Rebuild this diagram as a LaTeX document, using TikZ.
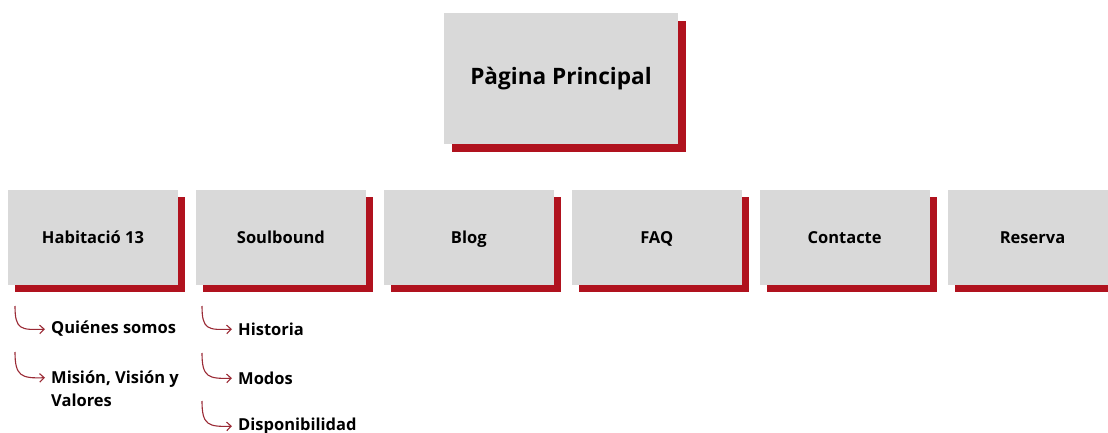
\documentclass[tikz,border=0pt]{standalone}
\usepackage{fontspec}
\setmainfont{Open Sans}
\usetikzlibrary{positioning,shadows,arrows.meta}
\definecolor{boxgray}{HTML}{D9D9D9}
\definecolor{shadowred}{HTML}{B0121E}
\definecolor{hookred}{HTML}{9A2A35}

\begin{document}
\begin{tikzpicture}[x=1pt,y=-1pt,
      node distance=17.5pt,
      page/.style={fill=boxgray,inner sep=0pt,minimum width=170pt,minimum height=95pt,
        font=\bfseries\fontsize{16.5}{20}\selectfont,text height=15pt,text depth=3pt,
        general shadow={fill=shadowred,shadow xshift=7pt,shadow yshift=-7pt}},
      mainpage/.style={fill=boxgray,inner sep=0pt,minimum width=234pt,minimum height=131pt,
        font=\bfseries\fontsize{22.6}{27}\selectfont,
        general shadow={fill=shadowred,shadow xshift=8pt,shadow yshift=-8pt}},
      item/.style={anchor=west,inner sep=0pt,align=left,font=\bfseries\fontsize{16.5}{23}\selectfont},
      hook/.style={draw=hookred,line width=1.1pt,-{Straight Barb[length=4.5pt,width=8.5pt]},shorten >=6pt}]
    \useasboundingbox (0,0) rectangle (1108,433);
    % main page
    \node (main) [mainpage] at (561,78.5) {Pàgina Principal};
    % sections
    \node (hab) [page] at (93,237.5) {Habitació 13};
    \node (soul) [page,right=of hab] {Soulbound};
    \node (blog) [page,right=of soul] {Blog};
    \node (faq) [page,right=of blog] {FAQ};
    \node (contact) [page,right=of faq] {Contacte};
    \node (reserva) [page,right=of contact] {Reserva};
    % sub pages
    \node (quienes) [item] at (51,329) {Quiénes somos};
    \node (mision) [item] at (51,389) {Misión, Visión y\\Valores};
    \node (historia) [item] at (238,329) {Historia};
    \node (modos) [item] at (238,378) {Modos};
    \node (dispo) [item] at (238,426) {Disponibilidad};
    \coordinate (quienes-in) at (15,306);
    \coordinate (mision-in) at (15,352);
    \coordinate (historia-in) at (202,306);
    \coordinate (modos-in) at (202,353);
    \coordinate (dispo-in) at (202,401);
    \draw[hook] (quienes-in) .. controls +(0,24) and +(-30,1) .. (quienes.west);
    \draw[hook] (mision-in) .. controls +(0,24) and +(-30,1) .. ([yshift=11.5pt]mision.west);
    \draw[hook] (historia-in) .. controls +(0,24) and +(-30,1) .. (historia.west);
    \draw[hook] (modos-in) .. controls +(0,24) and +(-30,1) .. (modos.west);
    \draw[hook] (dispo-in) .. controls +(0,24) and +(-30,1) .. (dispo.west);
\end{tikzpicture}
\end{document}
